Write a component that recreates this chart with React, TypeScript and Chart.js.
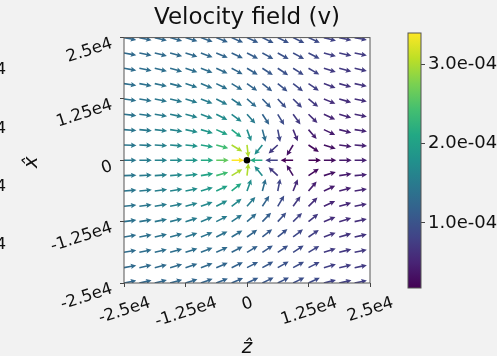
import { useEffect, useRef } from "react";
import { Chart, registerables } from "chart.js";

Chart.register(...registerables);

// ---------- data ----------
const chartTitle = "Velocity field (v)";
const zAxisTitle = "\u1E91"; // z-hat
const xAxisTitle = "x\u0302"; // x-hat

// grid positions (z horizontal, x vertical; rows listed top to bottom)
const zGrid = [-25000, -21875, -18750, -15625, -12500, -9375, -6250, -3125, 0, 3125, 6250, 9375, 12500, 15625, 18750, 21875, 25000];
const xGrid = [25000, 21875, 18750, 15625, 12500, 9375, 6250, 3125, 0, -3125, -6250, -9375, -12500, -15625, -18750, -21875, -25000];

const axisTicks = [-25000, -12500, 0, 12500, 25000];
const axisTickLabels = ["-2.5e4", "-1.25e4", "0", "1.25e4", "2.5e4"];

// velocity components in units of 1e-4 (rows top to bottom, columns left to right)
const VEL_UNIT = 1e-4;
const velZ: (number | null)[][] = [
  [1.240, 1.236, 1.227, 1.212, 1.187, 1.153, 1.109, 1.057, 1.000, 0.943, 0.891, 0.847, 0.813, 0.789, 0.773, 0.764, 0.760],
  [1.270, 1.270, 1.265, 1.252, 1.228, 1.191, 1.138, 1.073, 1.000, 0.927, 0.862, 0.810, 0.772, 0.748, 0.735, 0.730, 0.730],
  [1.303, 1.309, 1.310, 1.303, 1.282, 1.243, 1.181, 1.097, 1.000, 0.903, 0.819, 0.757, 0.718, 0.697, 0.690, 0.691, 0.697],
  [1.338, 1.353, 1.364, 1.366, 1.353, 1.317, 1.245, 1.136, 1.000, 0.864, 0.755, 0.684, 0.647, 0.634, 0.636, 0.647, 0.662],
  [1.374, 1.399, 1.423, 1.442, 1.447, 1.424, 1.349, 1.204, 1.000, 0.796, 0.651, 0.576, 0.553, 0.559, 0.577, 0.601, 0.626],
  [1.409, 1.445, 1.485, 1.528, 1.565, 1.579, 1.526, 1.338, 1.000, 0.663, 0.474, 0.421, 0.435, 0.473, 0.515, 0.556, 0.591],
  [1.437, 1.484, 1.542, 1.614, 1.699, 1.789, 1.834, 1.652, 0.600, 0.348, 0.166, 0.211, 0.301, 0.387, 0.458, 0.516, 0.563],
  [1.456, 1.512, 1.584, 1.681, 1.816, 2.013, 2.304, 2.557, 0.350, -1.100, -0.530, -0.175, 0.224, 0.319, 0.416, 0.488, 0.544],
  [1.463, 1.522, 1.599, 1.707, 1.864, 2.119, 2.612, 3.400, null, -2.150, -0.800, -0.180, 0.190, 0.294, 0.401, 0.478, 0.537],
  [1.456, 1.512, 1.584, 1.681, 1.816, 2.013, 2.304, 2.557, 0.350, -1.100, -0.530, -0.175, 0.224, 0.319, 0.416, 0.488, 0.544],
  [1.437, 1.484, 1.542, 1.614, 1.699, 1.789, 1.834, 1.652, 0.600, 0.348, 0.166, 0.211, 0.301, 0.387, 0.458, 0.516, 0.563],
  [1.409, 1.445, 1.485, 1.528, 1.565, 1.579, 1.526, 1.338, 1.000, 0.663, 0.474, 0.421, 0.435, 0.473, 0.515, 0.556, 0.591],
  [1.374, 1.399, 1.423, 1.442, 1.447, 1.424, 1.349, 1.204, 1.000, 0.796, 0.651, 0.576, 0.553, 0.559, 0.577, 0.601, 0.626],
  [1.338, 1.353, 1.364, 1.366, 1.353, 1.317, 1.245, 1.136, 1.000, 0.864, 0.755, 0.684, 0.647, 0.634, 0.636, 0.647, 0.662],
  [1.303, 1.309, 1.310, 1.303, 1.282, 1.243, 1.181, 1.097, 1.000, 0.903, 0.819, 0.757, 0.718, 0.697, 0.690, 0.691, 0.697],
  [1.270, 1.270, 1.265, 1.252, 1.228, 1.191, 1.138, 1.073, 1.000, 0.927, 0.862, 0.810, 0.772, 0.748, 0.735, 0.730, 0.730],
  [1.240, 1.236, 1.227, 1.212, 1.187, 1.153, 1.109, 1.057, 1.000, 0.943, 0.891, 0.847, 0.813, 0.789, 0.773, 0.764, 0.760],
];
const velX: (number | null)[][] = [
  [-0.240, -0.270, -0.303, -0.338, -0.374, -0.409, -0.437, -0.456, -0.463, -0.456, -0.437, -0.409, -0.374, -0.200, -0.170, -0.150, -0.130],
  [-0.236, -0.270, -0.309, -0.353, -0.399, -0.445, -0.484, -0.512, -0.522, -0.512, -0.484, -0.445, -0.399, -0.210, -0.170, -0.150, -0.130],
  [-0.227, -0.265, -0.310, -0.364, -0.423, -0.485, -0.542, -0.584, -0.599, -0.584, -0.542, -0.485, -0.423, -0.220, -0.180, -0.150, -0.120],
  [-0.212, -0.252, -0.303, -0.366, -0.442, -0.528, -0.614, -0.681, -0.707, -0.681, -0.614, -0.528, -0.442, -0.230, -0.180, -0.140, -0.110],
  [-0.187, -0.228, -0.282, -0.353, -0.447, -0.565, -0.699, -0.816, -0.864, -0.816, -0.699, -0.565, -0.447, -0.230, -0.170, -0.130, -0.100],
  [-0.153, -0.191, -0.243, -0.317, -0.424, -0.579, -0.789, -1.013, -1.119, -1.013, -0.789, -0.579, -0.424, -0.220, -0.150, -0.110, -0.080],
  [-0.109, -0.138, -0.181, -0.245, -0.349, -0.526, -0.834, -1.304, -1.650, -1.304, -0.834, -0.526, -0.349, -0.180, -0.120, -0.080, -0.060],
  [-0.057, -0.073, -0.097, -0.136, -0.204, -0.338, -0.652, -1.557, -3.000, -1.350, -0.490, -0.290, -0.151, -0.100, -0.060, -0.040, -0.030],
  [0, 0, 0, 0, 0, 0, 0, 0, null, 0, 0, 0, 0, 0, 0, 0, 0],
  [0.057, 0.073, 0.097, 0.136, 0.204, 0.338, 0.652, 1.557, 3.000, 1.350, 0.490, 0.290, 0.151, 0.100, 0.060, 0.040, 0.030],
  [0.109, 0.138, 0.181, 0.245, 0.349, 0.526, 0.834, 1.304, 1.650, 1.304, 0.834, 0.526, 0.349, 0.180, 0.120, 0.080, 0.060],
  [0.153, 0.191, 0.243, 0.317, 0.424, 0.579, 0.789, 1.013, 1.119, 1.013, 0.789, 0.579, 0.424, 0.220, 0.150, 0.110, 0.080],
  [0.187, 0.228, 0.282, 0.353, 0.447, 0.565, 0.699, 0.816, 0.864, 0.816, 0.699, 0.565, 0.447, 0.230, 0.170, 0.130, 0.100],
  [0.212, 0.252, 0.303, 0.366, 0.442, 0.528, 0.614, 0.681, 0.707, 0.681, 0.614, 0.528, 0.442, 0.230, 0.180, 0.140, 0.110],
  [0.227, 0.265, 0.310, 0.364, 0.423, 0.485, 0.542, 0.584, 0.599, 0.584, 0.542, 0.485, 0.423, 0.220, 0.180, 0.150, 0.120],
  [0.236, 0.270, 0.309, 0.353, 0.399, 0.445, 0.484, 0.512, 0.522, 0.512, 0.484, 0.445, 0.399, 0.210, 0.170, 0.150, 0.130],
  [0.240, 0.270, 0.303, 0.338, 0.374, 0.409, 0.437, 0.456, 0.463, 0.456, 0.437, 0.409, 0.374, 0.200, 0.170, 0.150, 0.130],
];

const sinkPoint = [{ x: 0, y: 0 }];

// colorbar
const cbMin = 1.77e-5;
const cbMax = 3.40e-4;
const cbTicks = [1e-4, 2e-4, 3e-4];
const cbTickLabels = ["1.0e-04", "2.0e-04", "3.0e-04"];

// clipped tick labels of the neighbouring panel (only their last glyph shows)
const neighbourLabels = ["4.0e-04", "3.0e-04", "2.0e-04", "1.0e-04"];

// ---------- style helpers ----------
const FONT = "'DejaVu Sans', sans-serif";
const W = 497;
const H = 356;
const TEXT_COLOR = "#111";

const viridisStops = ["#440154", "#482475", "#414487", "#355f8d", "#2a788e", "#21918c", "#22a884", "#44bf70", "#7ad151", "#bddf26", "#fde725"];
const hexToRgb = (h: string) => [parseInt(h.slice(1, 3), 16), parseInt(h.slice(3, 5), 16), parseInt(h.slice(5, 7), 16)];
const viridisRgb = viridisStops.map(hexToRgb);
function viridis(t: number) {
  const c = Math.max(0, Math.min(1, t));
  const p = c * (viridisRgb.length - 1);
  const i = Math.min(viridisRgb.length - 2, Math.floor(p));
  const f = p - i;
  const a = viridisRgb[i];
  const b = viridisRgb[i + 1];
  const m = (k: number) => Math.round(a[k] + (b[k] - a[k]) * f);
  return `rgb(${m(0)},${m(1)},${m(2)})`;
}

function drawArrow(ctx: CanvasRenderingContext2D, x: number, y: number, ang: number, color: string) {
  const L = 12.5;
  const sw = 1.6;
  const hl = 5.6;
  const hal = 4.8;
  const hw = 2.7;
  ctx.save();
  ctx.translate(x, y);
  ctx.rotate(ang);
  ctx.beginPath();
  ctx.moveTo(0, -sw / 2);
  ctx.lineTo(L - hal, -sw / 2);
  ctx.lineTo(L - hl, -hw);
  ctx.lineTo(L, 0);
  ctx.lineTo(L - hl, hw);
  ctx.lineTo(L - hal, sw / 2);
  ctx.lineTo(0, sw / 2);
  ctx.closePath();
  ctx.fillStyle = color;
  ctx.fill();
  ctx.restore();
}

const bgPlugin = {
  id: "bg",
  beforeDraw(chart: any) {
    const { ctx, chartArea: a } = chart;
    ctx.save();
    ctx.fillStyle = "#f2f2f2";
    ctx.fillRect(0, 0, chart.width, chart.height);
    ctx.fillStyle = "#ffffff";
    ctx.fillRect(a.left, a.top, a.right - a.left, a.bottom - a.top);
    ctx.restore();
  },
};

const quiverPlugin = {
  id: "quiver",
  beforeDatasetsDraw(chart: any) {
    const { ctx, chartArea: a } = chart;
    const ds = chart.data.datasets[1];
    const meta = chart.getDatasetMeta(1);
    ctx.save();
    ctx.beginPath();
    ctx.rect(a.left, a.top, a.right - a.left, a.bottom - a.top);
    ctx.clip();
    meta.data.forEach((el: any, i: number) => {
      const p = ds.data[i];
      const mag = Math.hypot(p.u, p.w) * VEL_UNIT;
      const ang = Math.atan2(-p.w, p.u);
      drawArrow(ctx, el.x, el.y, ang, viridis((mag - cbMin) / (cbMax - cbMin)));
    });
    ctx.restore();
  },
  afterDatasetsDraw(chart: any) {
    const { ctx, chartArea: a } = chart;
    ctx.save();
    ctx.strokeStyle = "#555";
    ctx.lineWidth = 1;
    ctx.strokeRect(a.left, a.top, a.right - a.left, a.bottom - a.top);
    ctx.restore();
  },
};

const textPlugin = {
  id: "texts",
  afterDraw(chart: any) {
    const { ctx, chartArea: a, scales } = chart;
    const fs = 16.7;
    const th = (18 * Math.PI) / 180;
    const digitH = 0.73 * fs;
    ctx.save();
    ctx.fillStyle = TEXT_COLOR;
    ctx.font = `${fs}px ${FONT}`;
    ctx.textBaseline = "alphabetic";
    // x tick labels
    axisTicks.forEach((v, i) => {
      const lbl = axisTickLabels[i];
      const px = scales.x.getPixelForValue(v);
      const tw = ctx.measureText(lbl).width;
      const hb = tw * Math.sin(th) + digitH * Math.cos(th);
      const cy = a.bottom + 12 + hb / 2;
      ctx.save();
      ctx.translate(px, cy);
      ctx.rotate(-th);
      ctx.textAlign = "center";
      ctx.fillText(lbl, 0, digitH / 2);
      ctx.restore();
    });
    // y tick labels
    axisTicks.forEach((v, i) => {
      const lbl = axisTickLabels[i];
      const py = scales.y.getPixelForValue(v);
      ctx.save();
      ctx.translate(a.left - 12.5, py + 4);
      ctx.rotate(-th);
      ctx.textAlign = "right";
      ctx.fillText(lbl, 0, digitH / 2);
      ctx.restore();
    });
    // axis titles
    ctx.font = `italic 20px ${FONT}`;
    ctx.textAlign = "center";
    ctx.fillText(zAxisTitle, (a.left + a.right) / 2, 352.5);
    ctx.save();
    ctx.translate(37, (a.top + a.bottom) / 2 + 2);
    ctx.rotate(-Math.PI / 2);
    ctx.fillText(xAxisTitle, 0, 0);
    ctx.restore();
    // neighbouring panel labels (clipped by the figure edge)
    ctx.font = `${fs}px ${FONT}`;
    ctx.textAlign = "right";
    const ys = [68, 127, 185, 243];
    neighbourLabels.forEach((lbl, i) => {
      ctx.fillText(lbl, 6, ys[i] + digitH / 2);
    });
    ctx.restore();
  },
};

const colorbarPlugin = {
  id: "colorbar",
  beforeDatasetsDraw(chart: any) {
    const { ctx, chartArea: a, scales } = chart;
    const y0 = scales.y.getPixelForValue(cbMin);
    const y1 = scales.y.getPixelForValue(cbMax);
    const g = ctx.createLinearGradient(0, y0, 0, y1);
    viridisStops.forEach((c, i) => g.addColorStop(i / (viridisStops.length - 1), c));
    ctx.save();
    ctx.fillStyle = g;
    ctx.fillRect(a.left, a.top, a.right - a.left, a.bottom - a.top);
    ctx.strokeStyle = "#555";
    ctx.lineWidth = 1;
    ctx.strokeRect(a.left, a.top, a.right - a.left, a.bottom - a.top);
    ctx.restore();
  },
};

export default function App() {
  const mainRef = useRef<HTMLCanvasElement | null>(null);
  const cbRef = useRef<HTMLCanvasElement | null>(null);

  useEffect(() => {
    if (!mainRef.current || !cbRef.current) return;

    const fieldData: any[] = [];
    xGrid.forEach((xv, r) => {
      zGrid.forEach((zv, c) => {
        const u = velZ[r][c];
        const w = velX[r][c];
        if (u == null || w == null) return;
        fieldData.push({ x: zv, y: xv, u, w });
      });
    });

    const tickGrid = { drawOnChartArea: false, drawTicks: true, tickLength: 4, color: "#444", lineWidth: 1 };

    const main = new Chart(mainRef.current, {
      type: "scatter",
      data: {
        datasets: [
          { label: "sink", data: sinkPoint, pointRadius: 3.3, pointHoverRadius: 3.3, pointBackgroundColor: "#000", pointBorderWidth: 0, order: 0 } as any,
          { label: "field", data: fieldData, pointRadius: 0, pointHoverRadius: 0, order: 1 } as any,
        ],
      },
      options: {
        animation: false,
        responsive: false,
        events: [],
        layout: { autoPadding: false, padding: { left: 0, right: 127, top: 0, bottom: 0 } },
        plugins: {
          legend: { display: false },
          tooltip: { enabled: false },
          title: {
            display: true,
            text: chartTitle,
            fullSize: false,
            color: TEXT_COLOR,
            font: { size: 23, family: FONT, weight: "normal" },
            padding: { top: 4, bottom: 6 },
          },
        },
        scales: {
          x: {
            type: "linear",
            min: -25000,
            max: 25000,
            afterBuildTicks: (s: any) => { s.ticks = axisTicks.map((v) => ({ value: v })); },
            afterFit: (s: any) => { s.height = 73; },
            ticks: { display: false },
            grid: tickGrid,
            border: { display: false },
          },
          y: {
            type: "linear",
            min: -25000,
            max: 25000,
            afterBuildTicks: (s: any) => { s.ticks = axisTicks.map((v) => ({ value: v })); },
            afterFit: (s: any) => { s.width = 124; },
            ticks: { display: false },
            grid: tickGrid,
            border: { display: false },
          },
        },
      } as any,
      plugins: [bgPlugin, quiverPlugin, textPlugin],
    });

    const cb = new Chart(cbRef.current, {
      type: "scatter",
      data: { datasets: [] },
      options: {
        animation: false,
        responsive: false,
        events: [],
        layout: { autoPadding: false, padding: { left: 408, right: 0, top: 33, bottom: 68 } },
        plugins: { legend: { display: false }, tooltip: { enabled: false }, title: { display: false } },
        scales: {
          x: { display: false, min: 0, max: 1 },
          y: {
            type: "linear",
            position: "right",
            min: cbMin,
            max: cbMax,
            afterBuildTicks: (s: any) => { s.ticks = cbTicks.map((v) => ({ value: v })); },
            afterFit: (s: any) => { s.width = 76; },
            ticks: {
              callback: (_v: any, i: number) => cbTickLabels[i],
              font: { size: 18, family: FONT },
              color: TEXT_COLOR,
              padding: 3,
              autoSkip: false,
            },
            grid: tickGrid,
            border: { display: false },
          },
        },
      } as any,
      plugins: [colorbarPlugin],
    });

    return () => {
      main.destroy();
      cb.destroy();
    };
  }, []);

  return (
    <div style={{ position: "fixed", left: 0, top: 0, width: W, height: H, background: "#f2f2f2", overflow: "hidden" }}>
      <canvas ref={mainRef} width={W} height={H} style={{ position: "absolute", left: 0, top: 0, width: W, height: H }} />
      <canvas ref={cbRef} width={W} height={H} style={{ position: "absolute", left: 0, top: 0, width: W, height: H }} />
    </div>
  );
}
